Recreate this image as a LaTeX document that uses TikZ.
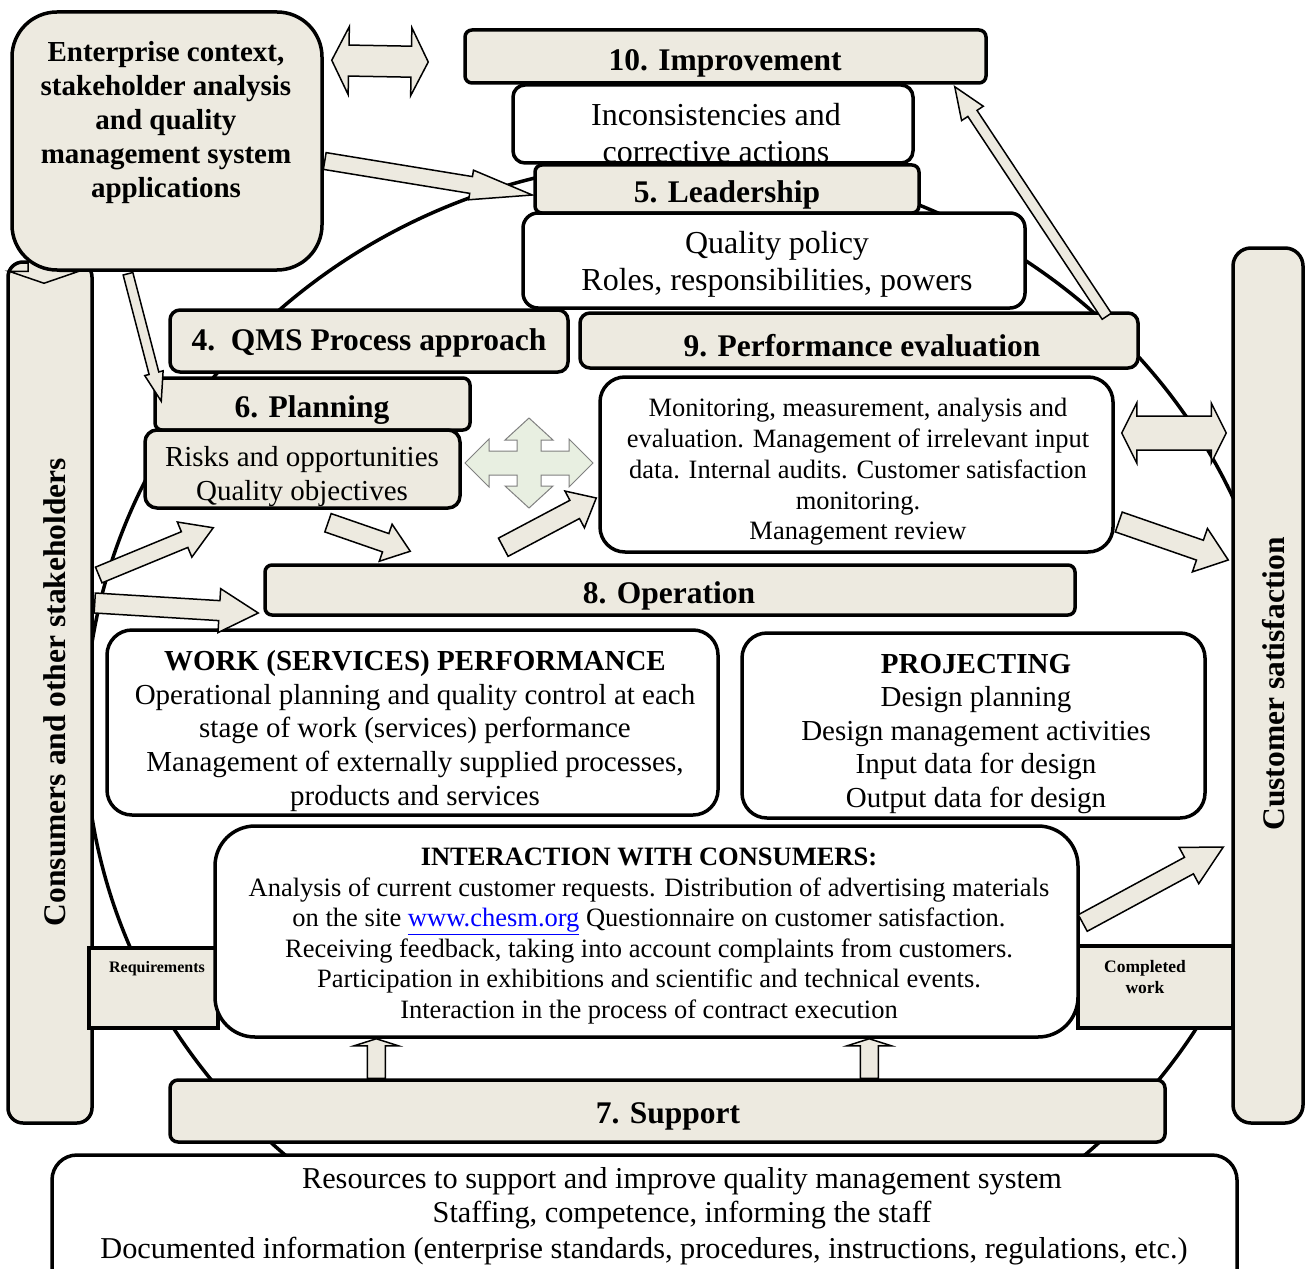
\documentclass[tikz,border=0pt]{standalone}
\usepackage{fontspec}
\setmainfont{Liberation Serif}
\usetikzlibrary{calc}
\definecolor{beige}{RGB}{237,234,224}
\definecolor{crossfill}{RGB}{232,239,225}

% block arrow: tail, tip, shaft half width, head half width, head length
\newcommand{\blockarrow}[5]{%
  \coordinate (ta) at (#1);
  \coordinate (tb) at (#2);
  \coordinate (hb) at ($(tb)!#5pt!(ta)$);
  \draw[blockarr] ($(ta)!#3pt!90:(tb)$) -- ($(hb)!#3pt!-90:(ta)$) -- ($(hb)!#4pt!-90:(ta)$) -- (tb)
    -- ($(hb)!#4pt!90:(ta)$) -- ($(hb)!#3pt!90:(ta)$) -- ($(ta)!#3pt!-90:(tb)$) -- cycle;}
% double block arrow
\newcommand{\dblarrow}[5]{%
  \coordinate (ta) at (#1);
  \coordinate (tb) at (#2);
  \coordinate (ha) at ($(ta)!#5pt!(tb)$);
  \coordinate (hb) at ($(tb)!#5pt!(ta)$);
  \draw[blockarr] (ta) -- ($(ha)!#4pt!90:(tb)$) -- ($(ha)!#3pt!90:(tb)$) -- ($(hb)!#3pt!-90:(ta)$)
    -- ($(hb)!#4pt!-90:(ta)$) -- (tb) -- ($(hb)!#4pt!90:(ta)$) -- ($(hb)!#3pt!90:(ta)$)
    -- ($(ha)!#3pt!-90:(tb)$) -- ($(ha)!#4pt!-90:(tb)$) -- cycle;}

\begin{document}
\begin{tikzpicture}[x=1pt, y=-1pt,
  box/.style={draw, line width=3.5pt, fill=beige, inner sep=0pt},
  headbox/.style={box, rounded corners=7pt},
  whitebox/.style={box, fill=white, rounded corners=25pt},
  txt/.style={inner sep=0pt, align=center},
  headtxt/.style={txt, font=\fontsize{31.5}{36}\selectfont\bfseries},
  blockarr/.style={draw, fill=beige, line width=1.5pt, line join=miter}]
\useasboundingbox (0,0) rectangle (1305,1268);
\clip (0,0) rectangle (1305,1268);

% Background circle
\draw[line width=3.5pt] (685,730) ellipse [x radius=600, y radius=570];

% Side panels
\node[box, rounded corners=15pt, minimum width=84pt, minimum height=861pt] (leftp) at (50,692.5) {};
\node[headtxt, rotate=90] (leftt) at (55,692) {Consumers and other stakeholders};
\node[box, rounded corners=18pt, minimum width=70pt, minimum height=875pt] (rightp) at (1268,685.5) {};
\node[headtxt, rotate=90] (rightt) at (1274,684) {Customer satisfaction};

% Enterprise context
\blockarrow{$(leftp.north)+(-6,-12)$}{$(leftp.north)+(-6,23)$}{16}{35}{12}
\node[box, rounded corners=45pt, minimum width=310pt, minimum height=258pt] (ctx) at (167,141) {};
\node[txt, font=\fontsize{29}{34}\selectfont\bfseries] (ctxt) at (166,123)
  {Enterprise context,\\stakeholder analysis\\and quality\\management system\\applications};

% Improvement and leadership
\node[headbox, minimum width=521pt, minimum height=53pt] (imp) at (725.5,56.5) {};
\node[headtxt] (impt) at (725,63) {10. Improvement};
\node[whitebox, rounded corners=12pt, minimum width=400pt, minimum height=78pt] (inc) at (713,124) {};
\node[txt, font=\fontsize{32}{36.5}\selectfont] (inct) at (716,133) {Inconsistencies and\\corrective actions};
\node[headbox, minimum width=384pt, minimum height=48pt] (lead) at (727,189) {};
\node[headtxt] (leadt) at (727,195) {5. Leadership};
\node[whitebox, rounded corners=15pt, minimum width=502pt, minimum height=95pt] (qp) at (774,260.5) {};
\node[txt, font=\fontsize{32}{37}\selectfont] (qpt) at (777,264) {Quality policy\\Roles, responsibilities, powers};

% Process approach, evaluation, planning
\node[headbox, rounded corners=10pt, minimum width=398pt, minimum height=62pt] (qms) at (369,341) {};
\node[headtxt] (qmst) at (369,343) {4.\ \ QMS Process approach};
\node[headbox, rounded corners=10pt, minimum width=558pt, minimum height=55pt] (perf) at (859,340.5) {};
\node[headtxt] (perft) at (862,346) {9. Performance evaluation};
\node[headbox, minimum width=315pt, minimum height=52pt] (plan) at (312.5,404) {};
\node[headtxt] (plant) at (312,410) {6. Planning};
\node[box, rounded corners=12pt, minimum width=315pt, minimum height=78pt] (risk) at (302.5,469) {};
\node[txt, font=\fontsize{29}{34}\selectfont] (riskt) at (302,477) {Risks and opportunities\\Quality objectives};
\node[whitebox, minimum width=513pt, minimum height=175pt] (mon) at (856.5,464.5) {};
\node[txt, font=\fontsize{26.5}{30.75}\selectfont] (mont) at (858,472)
  {Monitoring, measurement, analysis and\\evaluation. Management of irrelevant input\\data. Internal audits. Customer satisfaction\\monitoring.\\Management review};

% Operation
\node[headbox, minimum width=810pt, minimum height=50pt] (oper) at (670,590) {};
\node[headtxt] (opert) at (669,596) {8. Operation};
\node[whitebox, minimum width=611pt, minimum height=185pt] (work) at (412.5,722.5) {};
\node[txt, font=\fontsize{29}{33.75}\selectfont] (workt) at (415,731)
  {{\bfseries WORK (SERVICES) PERFORMANCE}\\Operational planning and quality control at each\\stage of work (services) performance\\Management of externally supplied processes,\\products and services};
\node[whitebox, minimum width=463pt, minimum height=185pt] (proj) at (973.5,725.5) {};
\node[txt, font=\fontsize{29}{33.5}\selectfont] (projt) at (976,734)
  {{\bfseries PROJECTING}\\Design planning\\Design management activities\\Input data for design\\Output data for design};

% Consumers
\node[box, minimum width=129pt, minimum height=80pt] (req) at (153.5,988) {};
\node[txt, font=\fontsize{16}{19}\selectfont\bfseries] (reqt) at (157,969) {Requirements};
\node[box, minimum width=155pt, minimum height=82pt] (done) at (1155.5,987) {};
\node[txt, font=\fontsize{17.5}{21}\selectfont\bfseries] (donet) at (1145,977) {Completed\\work};
\node[whitebox, rounded corners=40pt, minimum width=863pt, minimum height=211pt] (inter) at (646.5,931.5) {};
\node[txt, font=\fontsize{26.5}{30.6}\selectfont] (intert) at (649,936)
  {{\bfseries INTERACTION WITH CONSUMERS:}\\Analysis of current customer requests. Distribution of advertising materials\\on the site \textcolor{blue}{\underline{www.chesm.org}} Questionnaire on customer satisfaction.\\Receiving feedback, taking into account complaints from customers.\\Participation in exhibitions and scientific and technical events.\\Interaction in the process of contract execution};

% Support
\node[headbox, rounded corners=8pt, minimum width=995pt, minimum height=62pt] (supp) at (667.5,1111) {};
\node[headtxt] (suppt) at (668,1116) {7. Support};
\node[whitebox, minimum width=1185pt, minimum height=145pt] (bot) at (644.5,1227.5) {};
\node[txt, font=\fontsize{30.3}{34.5}\selectfont] (bott) at (682,1198)
  {Resources to support and improve quality management system\\Staffing, competence, informing the staff};
\node[txt, font=\fontsize{30.3}{34.5}\selectfont] (botd) at (644,1251)
  {Documented information (enterprise standards, procedures, instructions, regulations, etc.)};

% Arrows
\dblarrow{$(ctx.north east)+(8,50)$}{$(imp.west)+(-35,5.5)$}{15.5}{34}{17}
\blockarrow{$(ctx.east)+(1,20)$}{$(lead.west)+(-1,6)$}{8.5}{15}{62}
\blockarrow{$(ctx.south)+(-39,2)$}{$(plan.north west)+(8,25)$}{5}{9.5}{29}
\blockarrow{$(perf.north east)+(-33,5)$}{$(imp.south east)+(-33,2)$}{5.5}{13}{32}
\dblarrow{$(mon.east)+(7,-31.5)$}{$(rightp.west)+(-5,-252.5)$}{17}{30}{15}
\blockarrow{$(mon.east)+(4,57.5)$}{$(rightp.west)+(-3,-125.5)$}{10.5}{23}{30}
\blockarrow{$(leftp.east)+(5,-117.5)$}{$(risk.south west)+(70,18)$}{8.5}{19}{31}
\blockarrow{$(leftp.east)+(1,-89.5)$}{$(oper.west)+(-5,23)$}{10}{22}{39}
\blockarrow{$(risk.south)+(25.5,13)$}{$(oper.north west)+(147,-12)$}{9.7}{19.6}{26}
\blockarrow{$(oper.north west)+(240,-16)$}{$(mon.west)+(-2,33.5)$}{10.3}{20.8}{24.4}
\blockarrow{$(inter.east)+(3,-8.5)$}{$(rightp.west)+(-8,161.5)$}{9.4}{20.6}{39}
\blockarrow{$(supp.north west)+(208,0)$}{$(inter.south west)+(163,0)$}{9}{22}{7}
\blockarrow{$(supp.north west)+(701,0)$}{$(inter.south west)+(656,0)$}{9}{22}{7}

% Cross arrow
\coordinate (cross) at (529,463);
\draw[fill=crossfill, draw=gray, line width=1pt] ($(cross)+(64,0)$) -- ++(-24,-24) -- ++(0,12) -- ++(-28,0)
  -- ++(0,-11) -- ++(12,0) -- ++(-24,-22) -- ++(-24,22) -- ++(12,0) -- ++(0,11) -- ++(-28,0)
  -- ++(0,-12) -- ++(-24,24) -- ++(24,24) -- ++(0,-12) -- ++(28,0) -- ++(0,11) -- ++(-12,0)
  -- ++(24,22) -- ++(24,-22) -- ++(-12,0) -- ++(0,-11) -- ++(28,0) -- ++(0,12) -- cycle;
\end{tikzpicture}
\end{document}
